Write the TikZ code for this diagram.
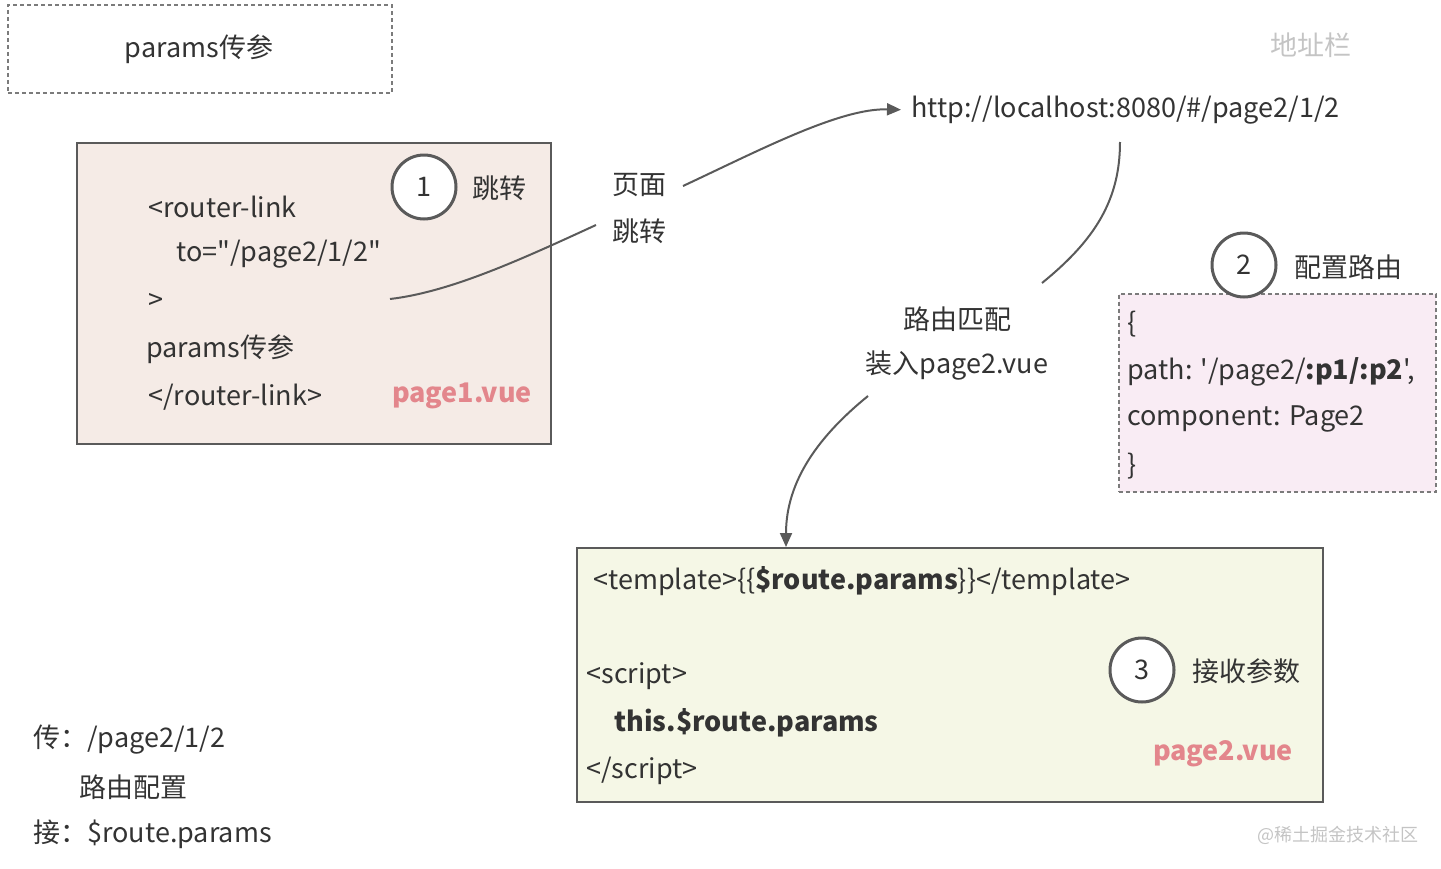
\documentclass[tikz,border=0pt]{standalone}
\usepackage{fontspec}
\newfontfamily\diagfont{Noto Sans CJK SC}
\usetikzlibrary{arrows.meta}
\definecolor{txt}{HTML}{333333}
\definecolor{linec}{HTML}{5A5A5A}
\definecolor{pageone}{HTML}{F5EBE6}
\definecolor{pinkbox}{HTML}{F9ECF4}
\definecolor{pagetwo}{HTML}{F5F7E6}
\definecolor{vuered}{HTML}{E3868C}
\definecolor{faint}{HTML}{C4C4C4}
\begin{document}
\begin{tikzpicture}[x=0.5pt,y=-0.5pt,
  every node/.style={text=txt,font=\diagfont\fontsize{13.5}{16}\selectfont,inner sep=0pt},
  codeline/.style={anchor=west},
  numcircle/.style={circle,draw=linec,line width=1.5pt,fill=white,minimum size=32pt},
  dotbox/.style={draw=linec!80,line width=0.8pt,dash pattern=on 2pt off 1.5pt},
  solidbox/.style={line width=1pt,anchor=north west},
  vuename/.style={text=vuered,font=\diagfont\fontsize{13.5}{16}\selectfont\bfseries},
  conn/.style={draw=linec,line width=1pt},
  arr/.style={conn,-{Triangle[length=7pt,width=6pt]}}
]
\useasboundingbox (0,0) rectangle (1441,868);

% title box
\node[dotbox,anchor=north west,minimum width=192pt,minimum height=44pt] (title) at (7,4) {};
\node (titletext) at (199,49) {params传参};

% address bar
\node[text=faint] (addr) at (1311,45) {地址栏};
\node[codeline] (url) at (911,110) {http://localhost:8080/\#/page2/1/2};

% page1 box
\node[solidbox,draw=linec,fill=pageone,minimum width=237pt,minimum height=150.5pt] (p1) at (76,142) {};
\node[codeline] (l1) at (148,207) {<router-link};
\node[codeline] (l2) at (176,254) {to="/page2/1/2"};
\node[codeline] (l3) at (148,301) {>};
\node[codeline] (l4) at (146,349) {params传参};
\node[codeline] (l5) at (148,397) {</router-link>};
\node[numcircle] (c1) at (424,187) {1};
\node (c1t) at (499,188) {跳转};
\node[vuename] (v1) at (462,396) {page1.vue};
\coordinate (s1) at (390,299);

% jump labels
\node (ye) at (639,185) {页面};
\node (tiao) at (639,231) {跳转};

% match labels
\node (match) at (957,319) {路由匹配};
\node (load) at (957,366) {装入page2.vue};

% route config
\node[dotbox,fill=pinkbox,anchor=north west,minimum width=158.5pt,minimum height=99pt] (p2cfg) at (1118,293) {};
\node[numcircle] (c2) at (1244,265) {2};
\node (c2t) at (1348,267) {配置路由};
\node[codeline] (r1) at (1127,324) {\{};
\node[codeline] (r2) at (1127,372) {path: '/page2/\textbf{:p1/:p2}',};
\node[codeline] (r3) at (1127,419) {component: Page2};
\node[codeline] (r4) at (1127,466) {\}};

% page2 box
\node[solidbox,draw=linec,fill=pagetwo,minimum width=373pt,minimum height=127pt] (p2) at (576,547) {};
\node[codeline] (t1) at (593,581) {<template>\{\{\textbf{\$route.params}\}\}</template>};
\node[codeline] (t2) at (586,676) {<script>};
\node[codeline] (t3) at (614,723) {\textbf{this.\$route.params}};
\node[codeline] (t4) at (586,771) {</script>};
\node[numcircle] (c3) at (1142,670) {3};
\node (c3t) at (1246,671) {接收参数};
\node[vuename] (v2) at (1223,754) {page2.vue};

% bottom-left notes
\node[codeline] (n1) at (33,740) {传：/page2/1/2};
\node[codeline] (n2) at (79,787) {路由配置};
\node[codeline] (n3) at (33,834) {接：\$route.params};

% watermark
\node[text=faint,font=\diagfont\fontsize{9}{11}\selectfont] (wm) at (1338,835) {@稀土掘金技术社区};

% connectors
\coordinate (e1) at (596,225);
\coordinate (s2) at (683,186);
\coordinate (s3) at (1120,142);
\coordinate (e3) at (1042,283);
\coordinate (s4) at (868,396);
\draw[conn] (s1) .. controls (450,292) and (520,260) .. (e1);
\draw[arr,shorten >=5pt] (s2) .. controls (760,150) and (840,108) .. (url.west);
\draw[conn] (s3) .. controls (1120,200) and (1095,240) .. (e3);
\draw[arr] (s4) .. controls (820,435) and (786,480) .. (p2.north west -| 786,547);
\end{tikzpicture}
\end{document}
